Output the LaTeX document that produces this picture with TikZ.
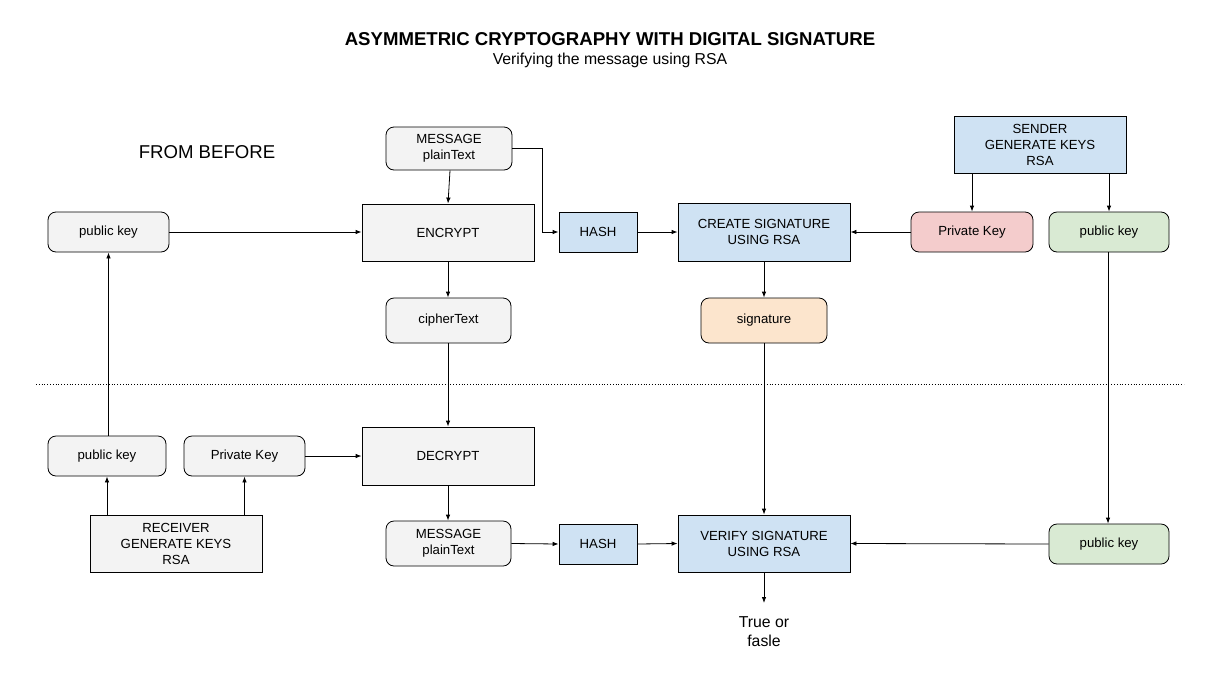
\documentclass[tikz,border=0pt]{standalone}
\usepackage{fontspec}
\setmainfont{Liberation Sans}
\usetikzlibrary{arrows.meta}
\definecolor{cgray}{HTML}{F3F3F3}
\definecolor{cblue}{HTML}{CFE2F3}
\definecolor{cpink}{HTML}{F4CCCC}
\definecolor{cgreen}{HTML}{D9EAD3}
\definecolor{corange}{HTML}{FCE5CD}
\tikzset{
  base/.style={draw=black, line width=0.8pt, inner sep=0pt, align=center, font=\fontsize{13.2}{16}\selectfont},
  sqbox/.style={base},
  rbox/.style={base, rounded corners=8pt},
  conn/.style={line width=0.8pt, -{Latex[length=6pt,width=4.5pt]}},
}
\begin{document}
\begin{tikzpicture}[x=1pt,y=-1pt]
\useasboundingbox[fill=white] (0,0) rectangle (1223,686);

\node[font=\fontsize{18.6}{21}\selectfont\bfseries] (title) at (610,39) {ASYMMETRIC CRYPTOGRAPHY WITH DIGITAL SIGNATURE};
\node[font=\fontsize{15.8}{18}\selectfont] (sub) at (610,60) {Verifying the message using RSA};
\node[font=\fontsize{18.6}{21}\selectfont] (before) at (207,152) {FROM BEFORE};

% top row
\node[rbox, fill=cgray, minimum width=126pt, minimum height=43pt] (msg1) at (449,148.5) {MESSAGE\\plainText};
\node[sqbox, fill=cgray, minimum width=172pt, minimum height=57pt] (enc) at (448,232.5) {ENCRYPT};
\node[sqbox, fill=cblue, minimum width=78pt, minimum height=40pt] (hash1) at (598,232) {HASH};
\node[sqbox, fill=cblue, minimum width=172pt, minimum height=58pt] (create) at (764,232) {CREATE SIGNATURE\\USING RSA};
\node[rbox, fill=cpink, minimum width=122pt, minimum height=40pt] (priv1) at (972,232) {Private Key};
\node[rbox, fill=cgreen, minimum width=120pt, minimum height=40pt] (pubg1) at (1109,232) {public key};
\node[sqbox, fill=cblue, minimum width=172pt, minimum height=57pt] (sender) at (1040,144.5) {SENDER\\GENERATE KEYS\\RSA};
\node[rbox, fill=cgray, minimum width=121pt, minimum height=40pt] (pub1) at (108.5,232) {public key};
\node[rbox, fill=cgray, minimum width=125pt, minimum height=45pt] (cipher) at (448.5,320.5) {cipherText};
\node[rbox, fill=corange, minimum width=126pt, minimum height=45pt] (sig) at (764,320.5) {signature};

% separator
\coordinate (sepL) at (36,384);
\coordinate (sepR) at (1184,384);
\draw[line width=0.8pt, dotted] (sepL) -- (sepR);

% bottom row
\node[rbox, fill=cgray, minimum width=118pt, minimum height=40pt] (pub2) at (107,456) {public key};
\node[rbox, fill=cgray, minimum width=121pt, minimum height=40pt] (priv2) at (244.5,456) {Private Key};
\node[sqbox, fill=cgray, minimum width=172pt, minimum height=58pt] (dec) at (448,456) {DECRYPT};
\node[sqbox, fill=cgray, minimum width=172pt, minimum height=57pt] (recv) at (176,543.5) {RECEIVER\\GENERATE KEYS\\RSA};
\node[rbox, fill=cgray, minimum width=125pt, minimum height=45pt] (msg2) at (448.5,543.5) {MESSAGE\\plainText};
\node[sqbox, fill=cblue, minimum width=78pt, minimum height=40pt] (hash2) at (598,544) {HASH};
\node[sqbox, fill=cblue, minimum width=172pt, minimum height=57pt] (verify) at (764,543.5) {VERIFY SIGNATURE\\USING RSA};
\node[rbox, fill=cgreen, minimum width=120pt, minimum height=40pt] (pubg2) at (1109,544) {public key};
\coordinate (res) at (764,603);
\node[font=\fontsize{15.8}{19}\selectfont, align=center] (restext) at (764,632) {True or\\fasle};

% connectors
\draw[conn] ([xshift=1pt]msg1.south) -- (enc.north);
\draw[conn] (msg1.east) -| ([xshift=-16pt]hash1.west) -- (hash1.west);
\draw[conn] (enc.south) -- (cipher.north -| enc.south);
\draw[conn] (hash1.east) -- (create.west);
\draw[conn] (priv1.west) -- (create.east);
\draw[conn] (sender.south -| priv1.north) -- (priv1.north);
\draw[conn] (sender.south -| pubg1.north) -- (pubg1.north);
\draw[conn] (pub1.east) -- (enc.west |- pub1.east);
\draw[conn] (create.south) -- (sig.north);
\draw[conn] (cipher.south -| enc.south) -- (dec.north);
\draw[conn] (sig.south) -- (verify.north);
\draw[conn] ([xshift=-1pt]pubg1.south) -- ([xshift=-1pt]pubg2.north);
\draw[conn] ([xshift=1pt]pub2.north) -- (pub1.south |- pub2.north) -- (pub1.south);
\draw[conn] (recv.north -| pub2.north) -- (pub2.south);
\draw[conn] (recv.north -| priv2.south) -- (priv2.south);
\draw[conn] (priv2.east) -- (dec.west);
\draw[conn] (dec.south) -- (msg2.north -| dec.south);
\draw[conn] (msg2.east) -- (hash2.west);
\draw[conn] (hash2.east) -- (verify.west);
\draw[conn] (pubg2.west) -- (verify.east);
\draw[conn] (verify.south) -- (res);
\end{tikzpicture}
\end{document}
